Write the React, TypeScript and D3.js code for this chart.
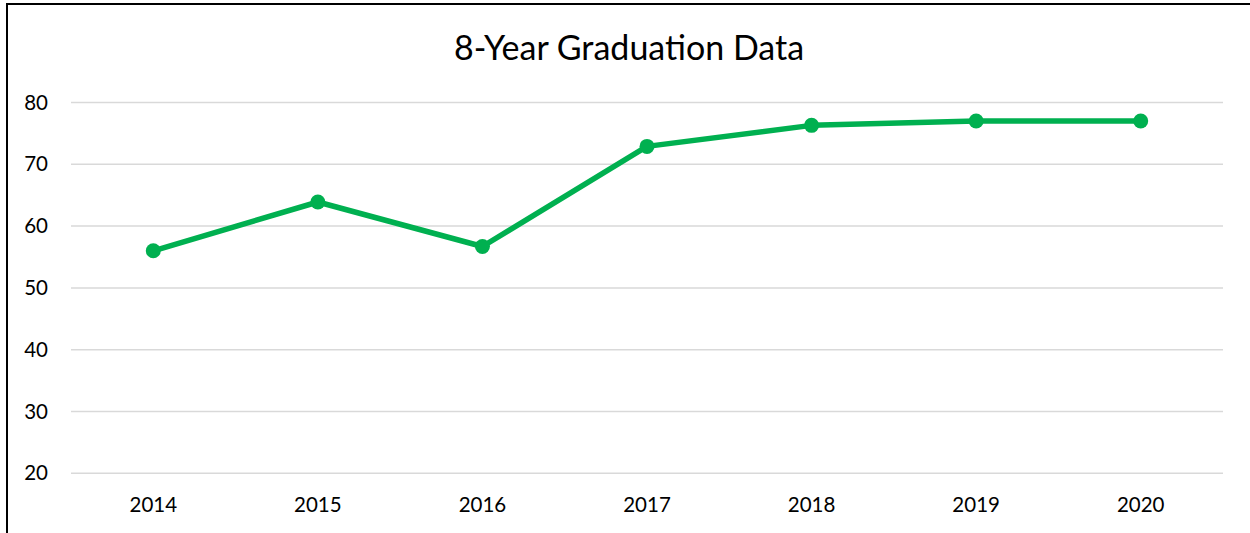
import * as d3 from 'd3';
import { useEffect, useRef } from 'react';

const years = ['2014', '2015', '2016', '2017', '2018', '2019', '2020'];
const gradRates = [56.0, 63.9, 56.7, 72.9, 76.3, 77.0, 77.0];
const yTicks = [20, 30, 40, 50, 60, 70, 80];

const width = 1250;
const height = 533;
const font = 'Lato, "Open Sans", sans-serif';
const green = '#00b050';

export default function App() {
  const svgRef = useRef<SVGSVGElement>(null);

  useEffect(() => {
    const svgEl = svgRef.current;
    if (!svgEl) return;

    const svg = d3.select(svgEl);
    svg.selectAll('*').remove();

    const x = d3.scaleBand<string>().domain(years).range([71, 1223]).padding(0);
    const y = d3.scaleLinear().domain([20, 80]).range([473.3, 102.5]);

    // chart frame (only left and top edges show in the crop)
    svg
      .append('path')
      .attr('d', `M7,${height} L7,4 L${width},4`)
      .attr('fill', 'none')
      .attr('stroke', '#000')
      .attr('stroke-width', 2);

    svg
      .append('text')
      .attr('x', 629)
      .attr('y', 60)
      .attr('text-anchor', 'middle')
      .attr('font-family', font)
      .attr('font-size', 34)
      .attr('fill', '#000')
      .text('8-Year Graduation Data');

    svg
      .append('g')
      .selectAll('line')
      .data(yTicks)
      .join('line')
      .attr('x1', 71)
      .attr('x2', 1223)
      .attr('y1', (d) => y(d))
      .attr('y2', (d) => y(d))
      .attr('stroke', '#d9d9d9')
      .attr('stroke-width', 1.5);

    svg
      .append('g')
      .selectAll('text')
      .data(yTicks)
      .join('text')
      .attr('x', 48)
      .attr('y', (d) => y(d))
      .attr('dy', '0.35em')
      .attr('text-anchor', 'end')
      .attr('font-family', font)
      .attr('font-size', 20.5)
      .attr('fill', '#000')
      .text((d) => d);

    svg
      .append('g')
      .selectAll('text')
      .data(years)
      .join('text')
      .attr('x', (d) => x(d)! + x.bandwidth() / 2)
      .attr('y', 512)
      .attr('text-anchor', 'middle')
      .attr('font-family', font)
      .attr('font-size', 20.5)
      .attr('fill', '#000')
      .text((d) => d);

    const pts = years.map((yr, i) => ({ yr, v: gradRates[i] }));
    const line = d3
      .line<{ yr: string; v: number }>()
      .x((d) => x(d.yr)! + x.bandwidth() / 2)
      .y((d) => y(d.v));

    svg
      .append('path')
      .datum(pts)
      .attr('d', line)
      .attr('fill', 'none')
      .attr('stroke', green)
      .attr('stroke-width', 5.5)
      .attr('stroke-linejoin', 'round');

    svg
      .append('g')
      .selectAll('circle')
      .data(pts)
      .join('circle')
      .attr('cx', (d) => x(d.yr)! + x.bandwidth() / 2)
      .attr('cy', (d) => y(d.v))
      .attr('r', 7.5)
      .attr('fill', green);
  }, []);

  return (
    <div style={{ position: 'fixed', left: 0, top: 0, background: '#fff' }}>
      <svg ref={svgRef} width={width} height={height} role="img" aria-label="8-Year Graduation Data" />
    </div>
  );
}
